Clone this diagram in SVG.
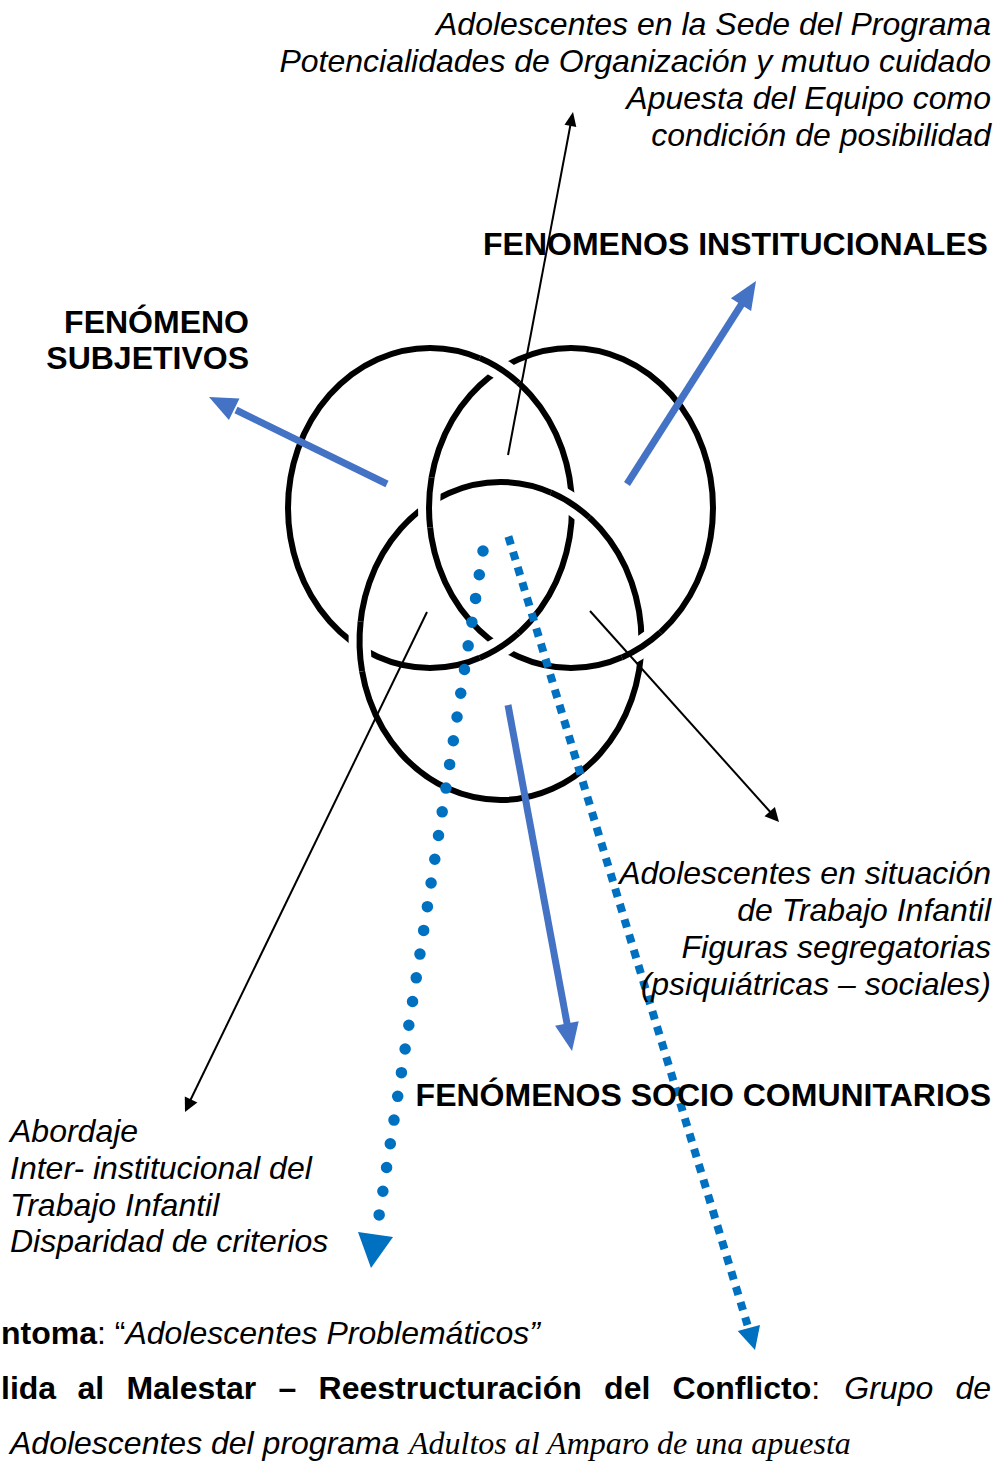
<svg xmlns="http://www.w3.org/2000/svg" width="999" height="1461" viewBox="0 0 999 1461">
<style>
.c{fill:none;stroke:#000;stroke-width:6}
.w{fill:none;stroke:#fff;stroke-width:22}
.t{font-family:"Liberation Sans",Arial,sans-serif;font-size:32px;fill:#000}
.ts{font-family:"Liberation Serif","Times New Roman",serif;font-size:32px;font-style:italic}
.i{font-style:italic}
.b{font-weight:bold}
.n{font-weight:normal}
.thin{fill:none;stroke:#000;stroke-width:2}
.blue{fill:none;stroke:#4472C4;stroke-width:7}
.bh{fill:#4472C4}
.dot{fill:none;stroke:#0070C0;stroke-width:11.5;stroke-linecap:round;stroke-dasharray:0 24}
.sq{fill:none;stroke:#0070C0;stroke-width:8;stroke-dasharray:8.5 7.5}
.dh{fill:#0070C0}
</style>
<rect width="999" height="1461" fill="#fff"/>
<g id="rings">
<ellipse class="c" cx="430" cy="508" rx="142" ry="160"/>
<ellipse class="c" cx="571" cy="508" rx="142" ry="160"/>
<ellipse class="c" cx="500.5" cy="641" rx="141" ry="159"/>
<path class="w" d="M479.7,358.1 A142,160 0 0 1 518.4,382.8"/>
<path class="c" d="M479.7,358.1 A142,160 0 0 1 518.4,382.8"/>
<path class="w" d="M518.4,633.2 A142,160 0 0 1 479.7,657.9"/>
<path class="c" d="M518.4,633.2 A142,160 0 0 1 479.7,657.9"/>
<path class="w" d="M362.1,671.3 A141,159 0 0 1 360.6,621.6"/>
<path class="c" d="M362.1,671.3 A141,159 0 0 1 360.6,621.6"/>
<path class="w" d="M551.0,492.6 A141,159 0 0 1 589.2,517.4"/>
<path class="c" d="M551.0,492.6 A141,159 0 0 1 589.2,517.4"/>
<path class="w" d="M430.1,527.5 A142,160 0 0 1 431.6,477.5"/>
<path class="c" d="M430.1,527.5 A142,160 0 0 1 431.6,477.5"/>
<path class="w" d="M660.4,632.3 A142,160 0 0 1 621.9,657.4"/>
<path class="c" d="M660.4,632.3 A142,160 0 0 1 621.9,657.4"/>
</g>
<g id="connectors">
<line class="thin" x1="508" y1="455" x2="571" y2="122"/>
<polygon points="573,112 576.3,126.9 564.5,124.7"/>
<line class="thin" x1="427" y1="612" x2="189" y2="1103"/>
<polygon points="185,1112 184.8,1096.4 197.4,1102.4"/>
<line class="thin" x1="590" y1="611" x2="773" y2="815"/>
<polygon points="779,822 764.5,816.3 774.9,806.9"/>
<line class="blue" x1="387" y1="484" x2="236" y2="410"/>
<polygon class="bh" points="209,397 239.5,398.5 228.9,420.1"/>
<line class="blue" x1="627" y1="484" x2="743" y2="302"/>
<polygon class="bh" points="756,281 751.1,311.0 730.9,298.2"/>
<line class="blue" x1="508" y1="705" x2="567.5" y2="1026"/>
<polygon class="bh" points="572,1051 555.1,1025.7 578.7,1021.3"/>
<path class="dot" d="M483,551 L379,1216"/>
<polygon class="dh" points="358,1232 393,1237 371,1268"/>
<path class="sq" d="M508.4,536.5 L747.5,1325"/>
<polygon class="dh" points="737.7,1331 760,1325 755,1350"/>
</g>
<g id="label-top" class="t i" text-anchor="end">
<text x="991" y="35">Adolescentes en la Sede del Programa</text>
<text x="991" y="72">Potencialidades de Organización y mutuo cuidado</text>
<text x="991" y="109">Apuesta del Equipo como</text>
<text x="991" y="146">condición de posibilidad</text>
</g>
<g id="title-institucionales" class="t b">
<text x="483" y="255">FENOMENOS INSTITUCIONALES</text>
</g>
<g id="title-subjetivos" class="t b" text-anchor="end">
<text x="249" y="333">FENÓMENO</text>
<text x="249" y="369">SUBJETIVOS</text>
</g>
<g id="label-right" class="t i" text-anchor="end">
<text x="991" y="884">Adolescentes en situación</text>
<text x="991" y="921">de Trabajo Infantil</text>
<text x="991" y="958">Figuras segregatorias</text>
<text x="991" y="995">(psiquiátricas – sociales)</text>
</g>
<g id="title-socio" class="t b" text-anchor="end">
<text x="991" y="1106">FENÓMENOS SOCIO COMUNITARIOS</text>
</g>
<g id="label-left" class="t i">
<text x="10" y="1142">Abordaje</text>
<text x="10" y="1179">Inter- institucional del</text>
<text x="10" y="1216">Trabajo Infantil</text>
<text x="10" y="1252">Disparidad de criterios</text>
</g>
<g id="bottom-text">
<text class="t" x="1" y="1344"><tspan class="b">ntoma</tspan>: “<tspan class="i">Adolescentes Problemáticos”</tspan></text>
<text class="t b" y="1399"><tspan x="1">lida</tspan><tspan x="77.4">al</tspan><tspan x="126.4">Malestar</tspan><tspan x="278.5">–</tspan><tspan x="318.6">Reestructuración</tspan><tspan x="604.1">del</tspan><tspan x="672.6">Conflicto</tspan><tspan class="n">:</tspan><tspan x="844.3" class="n i">Grupo</tspan><tspan x="955.5" class="n i">de</tspan></text>
<text class="t i" x="10" y="1454">Adolescentes del programa <tspan class="ts" x="409">Adultos al Amparo de una apuesta</tspan></text>
</g>
</svg>
